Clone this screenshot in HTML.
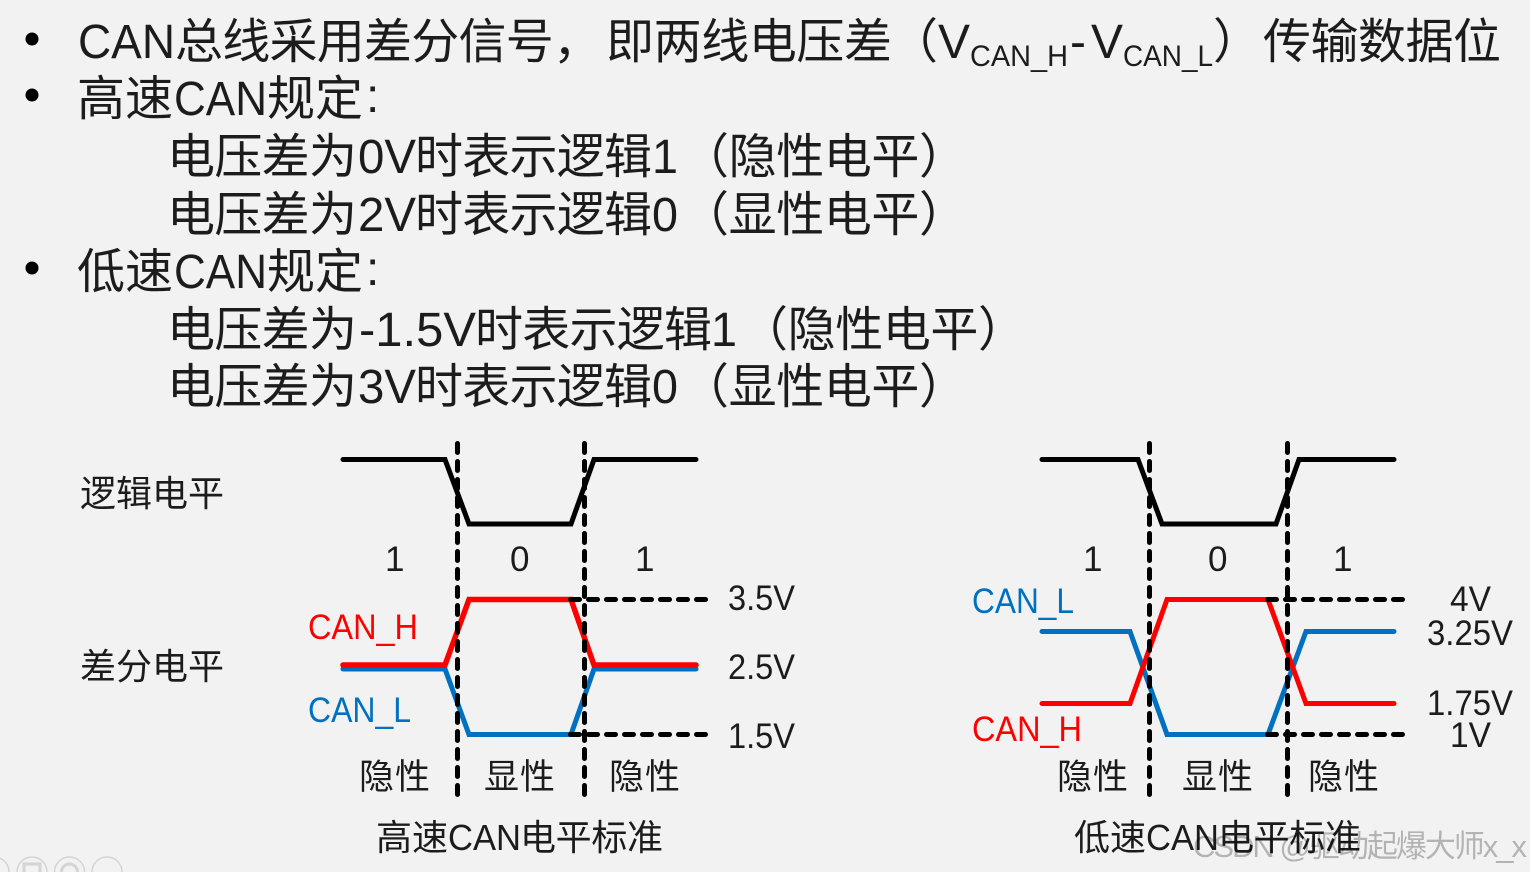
<!DOCTYPE html>
<html><head><meta charset="utf-8"><style>
html,body{margin:0;padding:0;background:#f2f2f2;width:1530px;height:872px;overflow:hidden}
svg{display:block}
text{font-family:"Liberation Sans","Noto Sans CJK SC",sans-serif;fill:#1c1c1c}
.m{font-size:48px}.l{font-size:36px}.n{font-size:35px}.s{font-size:30px}
.r{fill:#ff0000}.b{fill:#0070c0}
.w{fill:#000;fill-opacity:.26;font-size:31px}
</style></head><body>
<svg width="1530" height="872" viewBox="0 0 1530 872" xmlns="http://www.w3.org/2000/svg">
<rect width="1530" height="872" fill="#f2f2f2"/>
<circle cx="32" cy="39" r="6.5" fill="#000"/><circle cx="32" cy="95" r="6.5" fill="#000"/><circle cx="32" cy="268" r="6.5" fill="#000"/>

<text class="m" x="78" y="58" textLength="97" lengthAdjust="spacingAndGlyphs">CAN</text>
<text class="m" x="175" y="58" textLength="426">总线采用差分信号，</text>
<text class="m" x="606" y="58" textLength="286">即两线电压差</text>
<text class="m" x="890" y="58">（</text>
<text class="m" x="938" y="58" textLength="32" lengthAdjust="spacingAndGlyphs">V</text>
<text class="s" x="970" y="66" textLength="98" lengthAdjust="spacingAndGlyphs">CAN_H</text>
<text class="m" x="1070" y="58">-</text>
<text class="m" x="1091" y="58" textLength="32" lengthAdjust="spacingAndGlyphs">V</text>
<text class="s" x="1123" y="66" textLength="90" lengthAdjust="spacingAndGlyphs">CAN_L</text>
<text class="m" x="1213" y="58">）</text>
<text class="m" x="1263" y="58" textLength="238">传输数据位</text>

<text class="m" x="77" y="115">高速</text>
<text class="m" x="174" y="115" textLength="93" lengthAdjust="spacingAndGlyphs">CAN</text>
<text class="m" x="267" y="115">规定</text>
<text class="m" x="366" y="112">:</text>

<text class="m" x="167" y="173" textLength="190">电压差为</text>
<text class="m" x="358" y="173" textLength="58" lengthAdjust="spacingAndGlyphs">0V</text>
<text class="m" x="415" y="173" textLength="237">时表示逻辑</text>
<text class="m" x="652" y="173" textLength="26" lengthAdjust="spacingAndGlyphs">1</text>
<text class="m" x="681" y="173" textLength="286">（隐性电平）</text>

<text class="m" x="167" y="231" textLength="190">电压差为</text>
<text class="m" x="358" y="231" textLength="58" lengthAdjust="spacingAndGlyphs">2V</text>
<text class="m" x="415" y="231" textLength="237">时表示逻辑</text>
<text class="m" x="652" y="231" textLength="26" lengthAdjust="spacingAndGlyphs">0</text>
<text class="m" x="681" y="231" textLength="286">（显性电平）</text>

<text class="m" x="77" y="288">低速</text>
<text class="m" x="174" y="288" textLength="93" lengthAdjust="spacingAndGlyphs">CAN</text>
<text class="m" x="267" y="288">规定</text>
<text class="m" x="366" y="285">:</text>

<text class="m" x="167" y="346" textLength="190">电压差为</text>
<text class="m" x="359" y="346" textLength="117" lengthAdjust="spacingAndGlyphs">-1.5V</text>
<text class="m" x="475" y="346" textLength="237">时表示逻辑</text>
<text class="m" x="711" y="346" textLength="26" lengthAdjust="spacingAndGlyphs">1</text>
<text class="m" x="740" y="346" textLength="286">（隐性电平）</text>

<text class="m" x="167" y="403" textLength="190">电压差为</text>
<text class="m" x="358" y="403" textLength="58" lengthAdjust="spacingAndGlyphs">3V</text>
<text class="m" x="415" y="403" textLength="237">时表示逻辑</text>
<text class="m" x="652" y="403" textLength="26" lengthAdjust="spacingAndGlyphs">0</text>
<text class="m" x="681" y="403" textLength="286">（显性电平）</text>

<g fill="none" stroke-linejoin="miter">
<path d="M343 459.5H445L469 524H571L594 459.5H696" stroke="#000" stroke-width="5" stroke-linecap="round"/>
<path d="M343 669H445L469 734.500H571L594 669H696" stroke="#0070c0" stroke-width="5" stroke-linecap="round"/>
<path d="M343 665H445L469 599.500H571L594 665H696" stroke="#ff0000" stroke-width="5.500" stroke-linecap="round"/>
<path d="M1042 459.500H1138L1162 524H1276L1299 459.500H1394" stroke="#000" stroke-width="5" stroke-linecap="round"/>
<path d="M1042 631.500H1130L1167 734.500H1268L1306 631.500H1394" stroke="#0070c0" stroke-width="5" stroke-linecap="round"/>
<path d="M1042 703.500H1130L1167 599.500H1268L1306 703.500H1394" stroke="#ff0000" stroke-width="5" stroke-linecap="round"/>
<g stroke="#000" stroke-width="5" stroke-linecap="round" stroke-dasharray="9 9">
<path d="M457.500 443.500V795M584.500 443.500V795M1149.500 443.500V795M1287.500 443.500V795"/>
<path d="M570.500 599.500H706M570.500 734.500H706M1267.500 599.500H1403M1267.500 734.500H1403"/>
</g>
</g>

<text class="l" x="80" y="506" textLength="144">逻辑电平</text>
<text class="l" x="80" y="679" textLength="144">差分电平</text>

<text class="n" x="385" y="571">1</text><text class="n" x="510" y="571">0</text><text class="n" x="635" y="571">1</text>
<text class="n" x="1083" y="571">1</text><text class="n" x="1208" y="571">0</text><text class="n" x="1333" y="571">1</text>

<text class="n r" x="308" y="639" textLength="110" lengthAdjust="spacingAndGlyphs">CAN_H</text>
<text class="n b" x="308" y="722" textLength="103" lengthAdjust="spacingAndGlyphs">CAN_L</text>
<text class="n" x="728" y="610" textLength="67" lengthAdjust="spacingAndGlyphs">3.5V</text>
<text class="n" x="728" y="679" textLength="67" lengthAdjust="spacingAndGlyphs">2.5V</text>
<text class="n" x="728" y="748" textLength="67" lengthAdjust="spacingAndGlyphs">1.5V</text>

<text class="n b" x="972" y="613" textLength="102" lengthAdjust="spacingAndGlyphs">CAN_L</text>
<text class="n r" x="972" y="741" textLength="110" lengthAdjust="spacingAndGlyphs">CAN_H</text>
<text class="n" x="1450" y="611" textLength="41" lengthAdjust="spacingAndGlyphs">4V</text>
<text class="n" x="1427" y="645" textLength="86" lengthAdjust="spacingAndGlyphs">3.25V</text>
<text class="n" x="1427" y="715" textLength="86" lengthAdjust="spacingAndGlyphs">1.75V</text>
<text class="n" x="1450" y="747" textLength="41" lengthAdjust="spacingAndGlyphs">1V</text>

<text class="n" x="359" y="789" textLength="71">隐性</text>
<text class="n" x="484" y="789" textLength="71">显性</text>
<text class="n" x="609" y="789" textLength="71">隐性</text>
<text class="n" x="1057" y="789" textLength="71">隐性</text>
<text class="n" x="1182" y="789" textLength="71">显性</text>
<text class="n" x="1308" y="789" textLength="71">隐性</text>

<text class="l" x="376" y="850">高速</text>
<text class="l" x="448" y="850" textLength="73" lengthAdjust="spacingAndGlyphs">CAN</text>
<text class="l" x="520" y="850" textLength="143">电平标准</text>
<text class="l" x="1074" y="850">低速</text>
<text class="l" x="1146" y="850" textLength="73" lengthAdjust="spacingAndGlyphs">CAN</text>
<text class="l" x="1218" y="850" textLength="143">电平标准</text>

<text class="w" x="1193" y="857" textLength="334">CSDN @驱动起爆大师x_x</text>

<g fill="none" stroke="#000" stroke-opacity=".12" stroke-width="1.500">
<circle cx="-6" cy="872" r="15"/><circle cx="32" cy="872" r="15"/><circle cx="69.500" cy="872" r="15"/><circle cx="107" cy="872" r="15"/>
<circle cx="69.500" cy="872" r="8" stroke-width="3"/>
<rect x="24" y="864" width="16" height="10" stroke-width="3"/>
</g>
</svg>
</body></html>
